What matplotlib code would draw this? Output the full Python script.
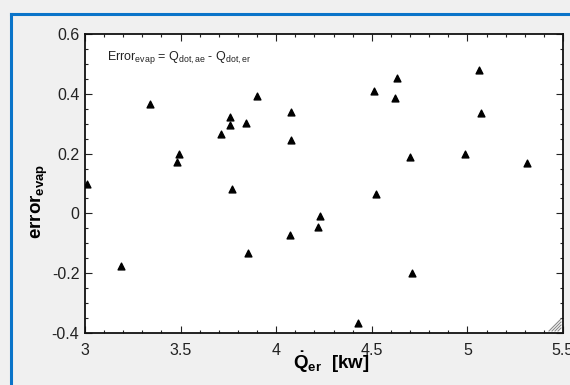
import matplotlib
matplotlib.use("Agg")
import matplotlib.pyplot as plt
from matplotlib.lines import Line2D
from matplotlib.ticker import MultipleLocator

# data
q_er = [3.01, 3.19, 3.34, 3.48, 3.49, 3.71, 3.76, 3.76, 3.77, 3.84,
        3.85, 3.90, 4.07, 4.08, 4.08, 4.22, 4.23, 4.43, 4.51, 4.52,
        4.62, 4.63, 4.70, 4.71, 4.99, 5.06, 5.07, 5.31]
error_evap = [0.097, -0.175, 0.367, 0.173, 0.197, 0.267, 0.323, 0.297, 0.083, 0.303,
              -0.133, 0.393, -0.073, 0.247, 0.34, -0.047, -0.01, -0.367, 0.41, 0.065,
              0.387, 0.453, 0.19, -0.2, 0.2, 0.48, 0.337, 0.17]

plt.rcParams['font.family'] = ['Liberation Sans', 'DejaVu Sans']
plt.rcParams['mathtext.fontset'] = 'custom'
plt.rcParams['mathtext.rm'] = 'Liberation Sans'
plt.rcParams['mathtext.it'] = 'Liberation Sans'
plt.rcParams['mathtext.bf'] = 'Liberation Sans:bold'

fig = plt.figure(figsize=(5.7, 3.85), dpi=100)
fig.patch.set_facecolor('#f0f0f0')

# blue window frame (top and left)
fig.add_artist(Line2D([11/570, 1.0], [1 - 14/385, 1 - 14/385], color='#0a74c9', lw=2.2))
fig.add_artist(Line2D([11/570, 11/570], [0.0, 1 - 14/385], color='#0a74c9', lw=2.2))

ax = fig.add_axes([85/570, 52/385, 478/570, 299/385])
ax.set_facecolor('white')
ax.scatter(q_er, error_evap, marker='^', s=24, color='black', zorder=3, clip_on=True)

ax.set_xlim(3, 5.5)
ax.set_ylim(-0.4, 0.6)
ax.xaxis.set_minor_locator(MultipleLocator(0.1))
ax.yaxis.set_minor_locator(MultipleLocator(0.05))
ax.set_xticks([3, 3.5, 4, 4.5, 5, 5.5])
ax.set_xticklabels(['3', '3.5', '4', '4.5', '5', '5.5'])
ax.set_yticks([-0.4, -0.2, 0, 0.2, 0.4, 0.6])
ax.set_yticklabels(['-0.4', '-0.2', '0', '0.2', '0.4', '0.6'])
ax.tick_params(which='both', direction='in', top=True, right=True, labelsize=11.5,
               colors='#222222', width=0.8)
ax.tick_params(which='major', length=5, pad=4)
ax.tick_params(axis='x', which='major', pad=7)
ax.tick_params(which='minor', length=2.5)
for s in ax.spines.values():
    s.set_linewidth(1.3)
    s.set_color('#111111')

ax.set_xlabel(r'$\mathbf{\dot{Q}_{er}}$  [kw]', fontsize=13.5, fontweight='bold')
ax.xaxis.set_label_coords((331 - 85) / 478, -0.055)
ax.set_ylabel(r'$\mathbf{error_{evap}}$', fontsize=13.5)
ax.yaxis.set_label_coords(-0.073, 0.44)

ax.text(0.045, 0.92, r'Error$_{\mathrm{evap}}$ = Q$_{\mathrm{dot,ae}}$ - Q$_{\mathrm{dot,er}}$',
        transform=ax.transAxes, fontsize=9, color='#222222', va='center')

# resize grip in the corner
for k in range(1, 5):
    d = 3 * k
    ax.plot([(476 - d) / 478, 476 / 478], [2 / 299, (2 + d) / 299], transform=ax.transAxes,
            color='#8a8a8a', lw=0.8, clip_on=False)

fig.savefig('out.png', dpi=100, facecolor=fig.get_facecolor())
